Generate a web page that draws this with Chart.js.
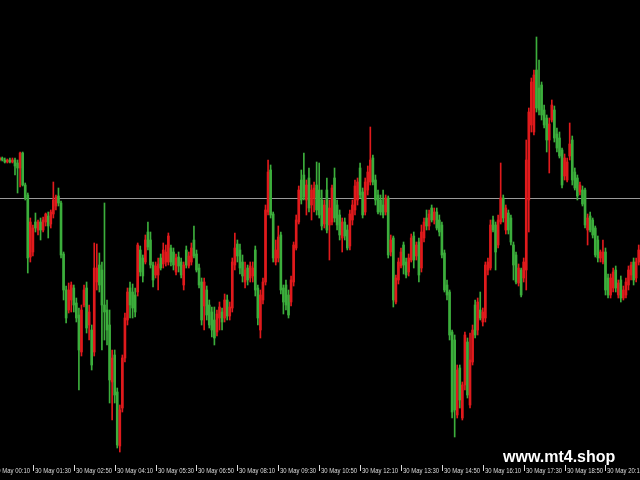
<!DOCTYPE html>
<html>
<head>
<meta charset="utf-8">
<script src="https://cdn.jsdelivr.net/npm/chart.js@4.4.1/dist/chart.umd.min.js"></script>
<style>
  html, body { margin: 0; padding: 0; background: #000; }
  canvas { display: block; }
</style>
</head>
<body>
<canvas id="priceChart" width="640" height="480"></canvas>
<script>
// M5 bars, 30 May; bar index 0 = 00:10. First visible bar is index 3.
const firstBar = 3;

// prices in points
const openPts = [
  840,842,840,838,840,838,840,837,832,847,
  815,805,743,748,778,770,778,770,778,784,
  776,786,794,804,797,746,710,690,700,712,
  697,685,648,695,712,675,670,648,718,735,
  730,695,690,675,618,645,608,554,592,642,
  680,712,708,705,708,750,742,738,768,760,
  735,725,725,742,736,738,738,752,748,728,
  743,738,715,750,734,738,760,746,732,718,
  694,710,695,688,680,668,682,688,682,700,
  684,692,735,756,750,738,718,732,722,724,
  750,712,670,700,718,788,830,786,738,742,
  765,712,715,705,698,718,752,778,820,825,
  800,822,795,802,815,810,800,776,810,775,
  778,822,795,785,762,778,770,754,780,790,
  800,832,808,788,810,818,842,820,805,800,
  795,788,802,748,762,698,720,734,755,738,
  728,740,764,744,758,732,762,782,774,792,
  780,788,780,775,747,715,708,668,660,585,
  632,582,615,658,595,638,695,670,690,678,
  682,730,732,780,775,755,778,802,770,787,
  782,755,745,717,730,722,730,800,875,868,
  930,912,915,890,882,860,880,890,866,862,
  850,824,820,844,860,828,822,808,810,810,
  770,784,780,772,760,742,738,748,722,705,
  712,730,705,720,702,705,715,725,738,722,
  738
];
const highPts = [
  843,843,842,841,842,842,842,840,848,848,
  817,807,782,775,787,780,782,783,787,788,
  790,818,805,812,799,748,714,717,718,715,
  702,692,695,715,718,695,675,757,756,747,
  738,797,700,690,650,650,612,595,645,687,
  712,718,716,712,757,754,745,765,778,768,
  738,738,742,746,757,755,767,755,752,746,
  748,742,738,754,748,757,774,750,736,722,
  722,714,700,693,693,690,698,692,706,705,
  698,742,767,760,756,745,738,735,738,738,
  754,715,710,722,795,840,835,788,760,774,
  768,715,720,710,724,758,785,814,830,847,
  820,832,815,818,838,837,810,800,822,800,
  815,832,800,790,782,782,775,790,800,820,
  822,837,812,822,834,873,845,825,810,805,
  810,805,804,765,764,725,742,752,758,742,
  746,766,768,758,762,775,782,790,790,795,
  792,792,785,778,750,720,710,670,665,635,
  635,618,668,662,667,675,700,702,708,692,
  738,742,780,784,778,785,837,805,795,790,
  785,758,748,736,732,742,860,892,922,930,
  963,940,918,895,885,882,900,894,872,868,
  852,846,842,877,864,832,825,818,814,812,
  786,788,782,774,764,750,760,752,726,726,
  732,734,720,724,714,722,734,738,742,742,
  755
];
const lowPts = [
  839,839,837,837,837,837,825,807,813,814,
  800,727,738,744,768,765,760,768,774,762,
  772,782,790,794,742,700,677,687,688,688,
  678,610,644,693,667,660,630,644,710,708,
  650,660,655,597,580,597,552,548,588,638,
  675,682,682,683,704,724,718,736,750,732,
  713,722,710,730,732,734,735,734,730,725,
  728,722,710,732,732,735,742,728,712,675,
  670,680,672,663,655,664,670,670,678,680,
  680,688,730,738,726,718,712,715,718,718,
  704,675,662,696,715,785,782,738,735,738,
  706,686,690,682,694,714,750,776,796,800,
  785,788,780,788,785,782,770,772,767,740,
  775,778,770,760,748,760,750,750,775,785,
  795,802,782,785,805,815,815,795,786,785,
  782,785,742,744,693,696,716,732,726,722,
  724,738,732,740,718,728,758,770,770,778,
  776,770,764,742,708,700,660,582,563,582,
  592,580,610,602,592,635,662,665,680,674,
  678,725,730,768,730,752,776,778,766,766,
  755,720,716,714,703,718,710,768,868,865,
  888,885,880,872,848,827,878,858,848,842,
  812,820,818,840,815,810,800,805,794,772,
  755,768,762,743,738,738,736,705,702,702,
  708,708,702,698,700,702,710,720,715,718,
  735
];
const closePts = [
  842,840,838,840,838,840,834,832,847,815,
  802,742,778,772,772,778,770,780,786,774,
  788,800,803,797,745,710,682,710,715,695,
  682,650,690,710,672,688,635,732,732,715,
  695,688,670,620,642,605,555,590,642,682,
  708,695,692,688,755,728,724,760,753,735,
  720,734,736,732,750,748,764,738,735,742,
  734,725,735,735,744,752,744,730,715,680,
  718,685,675,670,662,686,693,678,700,684,
  693,738,752,744,732,724,730,720,734,732,
  710,682,705,718,790,828,785,742,750,763,
  710,698,695,685,720,755,780,810,800,803,
  815,792,810,812,790,785,774,795,770,792,
  812,782,775,765,778,764,752,786,795,814,
  818,805,785,818,828,840,818,800,788,788,
  785,802,745,760,700,722,738,748,735,725,
  742,762,740,755,725,768,778,774,786,780,
  788,772,768,745,710,705,665,588,590,630,
  600,615,665,605,640,670,665,698,682,688,
  735,738,775,770,748,780,802,782,792,770,
  758,735,718,732,705,738,840,888,918,925,
  892,890,885,875,860,876,895,862,852,844,
  815,842,838,856,820,812,804,815,796,775,
  782,770,765,745,742,748,748,710,705,722,
  728,712,717,702,710,718,730,735,720,738,
  750
];

const bidLine = 802;

const timeLabels = [
  '30 May 00:10', '30 May 01:30', '30 May 02:50', '30 May 04:10',
  '30 May 05:30', '30 May 06:50', '30 May 08:10', '30 May 09:30',
  '30 May 10:50', '30 May 12:10', '30 May 13:30', '30 May 14:50',
  '30 May 16:10', '30 May 17:30', '30 May 18:50', '30 May 20:10'
];
const barsPerLabel = 16;

const upColor = '#e01a1c';
const downColor = '#3cae3c';

const barIndex = openPts.map((o, i) => firstBar + i);
const isUp = i => closePts[i] > openPts[i];
const candleColor = ctx => isUp(ctx.dataIndex) ? upColor : downColor;

const wickData = barIndex.map((k, i) => ({ x: k, y: [lowPts[i], highPts[i]] }));
const bodyData = barIndex.map((k, i) => ({
  x: k,
  y: [Math.min(openPts[i], closePts[i]), Math.max(openPts[i], closePts[i])]
}));

//#region mt4 look
const mt4Frame = {
  id: 'mt4Frame',
  beforeDraw(chart) {
    const c = chart.ctx;
    c.save();
    c.fillStyle = '#000';
    c.fillRect(0, 0, chart.width, chart.height);
    c.restore();
  },
  beforeDatasetsDraw(chart) {
    const c = chart.ctx;
    const area = chart.chartArea;
    const py = Math.round(chart.scales.y.getPixelForValue(bidLine)) + 0.5;
    c.save();
    c.strokeStyle = '#9a9a9a';
    c.lineWidth = 1;
    c.beginPath();
    c.moveTo(area.left, py);
    c.lineTo(area.right, py);
    c.stroke();
    c.restore();
  },
  afterDraw(chart) {
    const c = chart.ctx;
    const xs = chart.scales.x;
    c.save();
    c.font = '7px "Liberation Sans"';
    c.fillStyle = '#dcdcdc';
    timeLabels.forEach((t, j) => {
      const px = Math.round(xs.getPixelForValue(j * barsPerLabel));
      c.fillRect(px, 465, 1, 6);
      // squeeze the label so it ends before the next tick, like the terminal font
      const w = c.measureText(t).width;
      c.save();
      c.translate(px + 2, 473);
      c.scale(Math.min(1, 36 / w), 1);
      c.fillText(t, 0, 0);
      c.restore();
    });
    // watermark
    c.font = 'bold 16px "Liberation Sans"';
    c.fillStyle = '#ffffff';
    c.fillText('www.mt4.shop', 503, 462);
    c.restore();
  }
};
//#endregion

new Chart(document.getElementById('priceChart'), {
  type: 'bar',
  data: {
    datasets: [
      {
        data: wickData,
        backgroundColor: candleColor,
        barThickness: 1,
        grouped: false,
        borderWidth: 0,
        order: 2
      },
      {
        data: bodyData,
        backgroundColor: candleColor,
        barThickness: 2,
        minBarLength: 1,
        grouped: false,
        borderWidth: 0,
        order: 1
      }
    ]
  },
  options: {
    responsive: false,
    animation: false,
    layout: { padding: { left: 0, right: 0, top: 0, bottom: 19 } },
    plugins: {
      legend: { display: false },
      tooltip: { enabled: false }
    },
    scales: {
      x: { type: 'linear', min: 3.13, max: 253.5, offset: false, display: false },
      y: { min: 539, max: 1000, display: false }
    }
  },
  plugins: [mt4Frame]
});
</script>
</body>
</html>
